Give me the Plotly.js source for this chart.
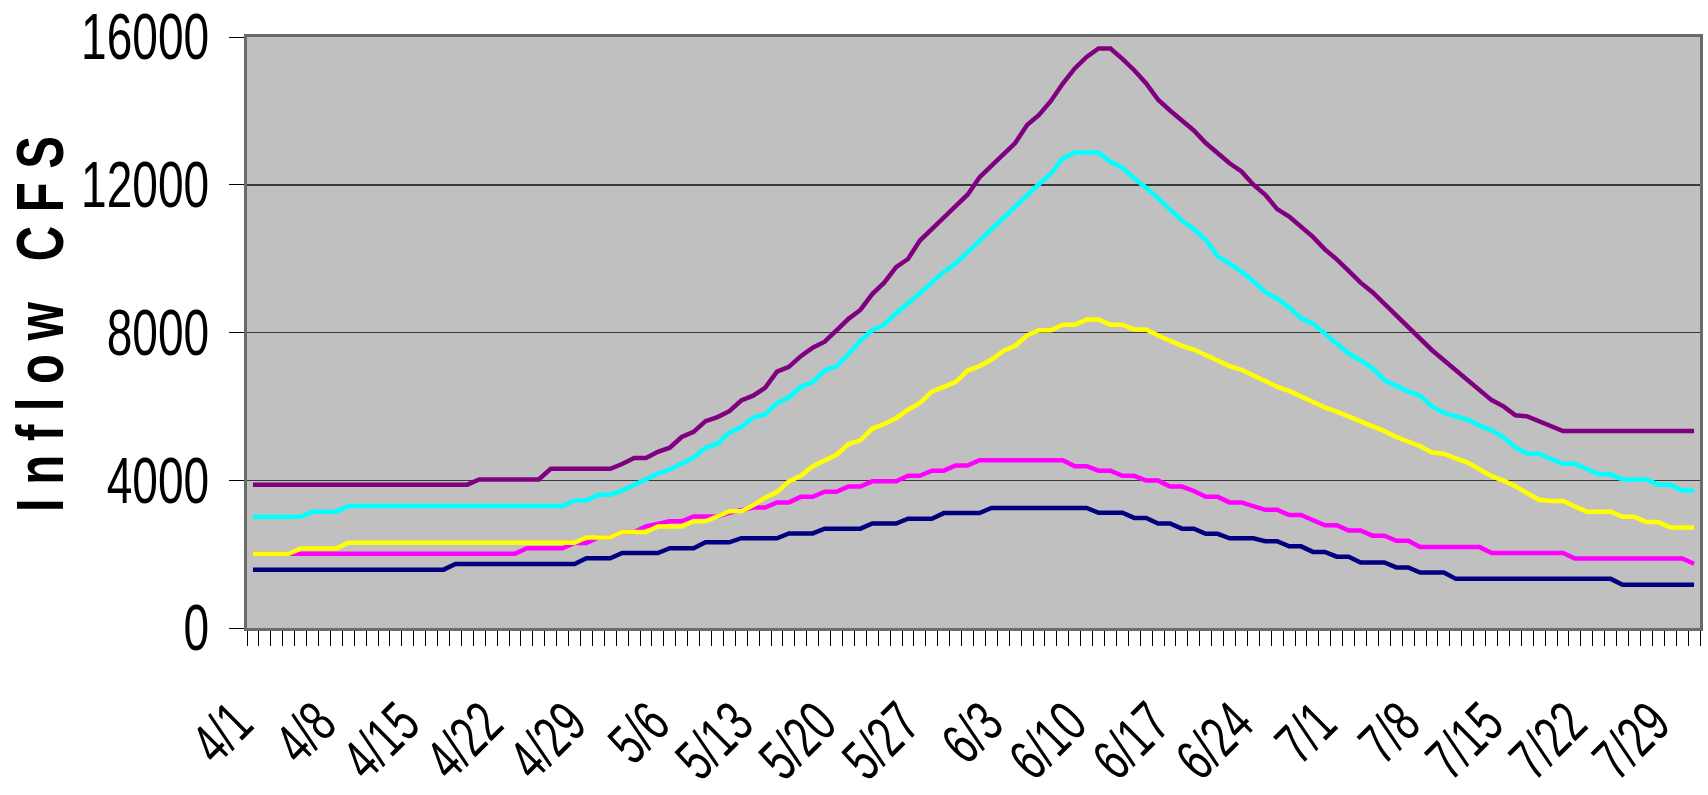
<!DOCTYPE html>
<html>
<head>
<meta charset="utf-8">
<script src="https://cdn.plot.ly/plotly-3.0.1.min.js"></script>
<style>
  html, body { margin: 0; padding: 0; background: #ffffff; }
  #chart { width: 1708px; height: 795px; }
</style>
</head>
<body>
<div id="chart"></div>
<script>
// daily categories 4/1 .. 7/31
const months = [4, 5, 6, 7];
const monthLengths = [30, 31, 30, 31];
const days = [];
months.forEach((m, k) => {
  for (let d = 1; d <= monthLengths[k]; d++) days.push(m + '/' + d);
});

const tickLabels = ['4/1', '4/8', '4/15', '4/22', '4/29', '5/6', '5/13', '5/20', '5/27',
  '6/3', '6/10', '6/17', '6/24', '7/1', '7/8', '7/15', '7/22', '7/29'];

const yTicks = [0, 4000, 8000, 12000, 16000];

// inflow, cfs
const navy = [
  1580, 1580, 1580, 1580, 1580, 1580, 1580, 1580, 1580, 1580,
  1580, 1580, 1580, 1580, 1580, 1580, 1580, 1735, 1735, 1735,
  1735, 1735, 1735, 1735, 1735, 1735, 1735, 1735, 1890, 1890,
  1890, 2030, 2030, 2030, 2030, 2160, 2160, 2160, 2320, 2320,
  2320, 2430, 2430, 2430, 2430, 2560, 2560, 2560, 2690, 2690,
  2690, 2690, 2830, 2830, 2830, 2960, 2960, 2960, 3110, 3110,
  3110, 3110, 3250, 3250, 3250, 3250, 3250, 3250, 3250, 3250,
  3250, 3120, 3120, 3120, 2980, 2980, 2830, 2830, 2690, 2690,
  2550, 2550, 2430, 2430, 2430, 2350, 2350, 2210, 2210, 2060,
  2060, 1930, 1930, 1775, 1775, 1775, 1640, 1640, 1500, 1500,
  1500, 1330, 1330, 1330, 1330, 1330, 1330, 1330, 1330, 1330,
  1330, 1330, 1330, 1330, 1330, 1170, 1170, 1170, 1170, 1170,
  1170, 1170
];

const magenta = [
  2010, 2010, 2010, 2010, 2010, 2010, 2010, 2010, 2010, 2010,
  2010, 2010, 2010, 2010, 2010, 2010, 2010, 2010, 2010, 2010,
  2010, 2010, 2010, 2160, 2160, 2160, 2160, 2300, 2300, 2450,
  2450, 2600, 2600, 2750, 2810, 2890, 2890, 3020, 3020, 3020,
  3120, 3200, 3260, 3260, 3400, 3400, 3550, 3550, 3690, 3690,
  3830, 3830, 3970, 3970, 3970, 4120, 4120, 4260, 4260, 4400,
  4400, 4540, 4540, 4540, 4540, 4540, 4540, 4540, 4540, 4380,
  4380, 4260, 4260, 4120, 4120, 3990, 3990, 3830, 3830, 3710,
  3550, 3550, 3400, 3400, 3300, 3200, 3200, 3060, 3060, 2910,
  2780, 2780, 2640, 2640, 2500, 2500, 2360, 2360, 2190, 2190,
  2190, 2190, 2190, 2190, 2030, 2030, 2030, 2030, 2030, 2030,
  2030, 1880, 1880, 1880, 1880, 1880, 1880, 1880, 1880, 1880,
  1880, 1740
];

const yellow = [
  2010, 2010, 2010, 2010, 2150, 2150, 2150, 2150, 2310, 2310,
  2310, 2310, 2310, 2310, 2310, 2310, 2310, 2310, 2310, 2310,
  2310, 2310, 2310, 2310, 2310, 2310, 2310, 2310, 2450, 2450,
  2450, 2600, 2600, 2600, 2750, 2750, 2750, 2890, 2890, 3020,
  3160, 3160, 3320, 3530, 3680, 3970, 4120, 4380, 4540, 4690,
  4980, 5080, 5400, 5520, 5680, 5910, 6090, 6400, 6530, 6660,
  6970, 7090, 7260, 7500, 7640, 7920, 8060, 8060, 8210, 8210,
  8350, 8350, 8210, 8210, 8080, 8080, 7920, 7780, 7640, 7540,
  7400, 7260, 7090, 6990, 6840, 6670, 6530, 6420, 6270, 6110,
  5970, 5860, 5730, 5580, 5460, 5330, 5170, 5040, 4920, 4750,
  4720, 4590, 4480, 4290, 4110, 3990, 3840, 3650, 3470, 3440,
  3440, 3290, 3150, 3150, 3150, 3010, 3010, 2870, 2870, 2720,
  2720, 2720
];

const cyan = [
  3010, 3010, 3010, 3010, 3010, 3150, 3150, 3150, 3300, 3300,
  3300, 3300, 3300, 3300, 3300, 3300, 3300, 3300, 3300, 3300,
  3300, 3300, 3300, 3300, 3300, 3300, 3300, 3450, 3450, 3610,
  3610, 3720, 3880, 4050, 4180, 4290, 4440, 4610, 4880, 4990,
  5290, 5440, 5700, 5780, 6090, 6240, 6530, 6660, 6970, 7090,
  7410, 7780, 8060, 8210, 8520, 8780, 9060, 9350, 9640, 9870,
  10180, 10490, 10800, 11130, 11400, 11710, 12020, 12300, 12720, 12870,
  12870, 12870, 12620, 12460, 12170, 11920, 11630, 11320, 11030, 10800,
  10510, 10060, 9870, 9640, 9390, 9090, 8920, 8680, 8390, 8240,
  7970, 7730, 7430, 7250, 7030, 6710, 6540, 6400, 6290, 6000,
  5820, 5730, 5640, 5480, 5350, 5160, 4890, 4720, 4720, 4570,
  4450, 4450, 4320, 4160, 4160, 4020, 4020, 4020, 3880, 3880,
  3720, 3720
];

const purple = [
  3880, 3880, 3880, 3880, 3880, 3880, 3880, 3880, 3880, 3880,
  3880, 3880, 3880, 3880, 3880, 3880, 3880, 3880, 3880, 4020,
  4020, 4020, 4020, 4020, 4020, 4310, 4310, 4310, 4310, 4310,
  4310, 4440, 4600, 4600, 4770, 4880, 5170, 5310, 5600, 5710,
  5870, 6160, 6290, 6500, 6940, 7070, 7360, 7590, 7750, 8060,
  8370, 8610, 9040, 9350, 9770, 9990, 10490, 10800, 11090, 11420,
  11730, 12200, 12510, 12820, 13130, 13620, 13890, 14270, 14740, 15150,
  15460, 15690, 15690, 15410, 15100, 14740, 14300, 14010, 13720, 13470,
  13130, 12870, 12580, 12360, 12000, 11730, 11340, 11140, 10880, 10590,
  10250, 9980, 9670, 9350, 9090, 8770, 8460, 8150, 7820, 7520,
  7250, 6980, 6710, 6450, 6170, 6000, 5760, 5730, 5600, 5440,
  5330, 5330, 5330, 5330, 5330, 5330, 5330, 5330, 5330, 5330,
  5330, 5330
];

// drawn in this order, later ones on top
const series = [
  { values: navy, color: '#000080' },
  { values: magenta, color: '#ff00ff' },
  { values: yellow, color: '#ffff00' },
  { values: cyan, color: '#00ffff' },
  { values: purple, color: '#800080' }
];

const dayIndex = days.map((d, i) => i);
const tickVals = tickLabels.map(t => days.indexOf(t));

const traces = series.map(s => ({
  x: dayIndex,
  y: s.values,
  type: 'scatter',
  mode: 'lines',
  line: { color: s.color, width: 4.5 },
  hoverinfo: 'skip'
}));

const sans = '"Liberation Sans", Arial, sans-serif';

const layout = {
  width: 1708,
  height: 795,
  margin: { l: 247, r: 8, t: 37, b: 167 },
  paper_bgcolor: '#ffffff',
  plot_bgcolor: '#c0c0c0',
  showlegend: false,
  font: { family: sans, color: '#000000' },
  xaxis: {
    type: 'linear',
    range: [-0.5, days.length - 0.5],
    tickmode: 'array',
    tickvals: tickVals,
    ticktext: tickLabels,
    tickangle: -45,
    ticks: '',
    ticklabelstandoff: 40,
    tickfont: { size: 58, family: sans },
    showgrid: false,
    zeroline: false,
    showline: true,
    linecolor: '#6a6a6a',
    linewidth: 3,
    mirror: true,
    minor: { ticks: 'outside', tick0: -0.5, dtick: 1, ticklen: 15, tickcolor: '#000000', tickwidth: 1, showgrid: false }
  },
  yaxis: {
    range: [0, 16000],
    tickmode: 'array',
    tickvals: yTicks,
    ticktext: yTicks.map(String),
    ticks: 'outside',
    ticklen: 15,
    tickcolor: '#000000',
    ticklabelstandoff: 7,
    tickfont: { size: 64, family: sans },
    showgrid: true,
    gridcolor: '#3a3a3a',
    gridwidth: 1.5,
    zeroline: false,
    showline: true,
    linecolor: '#6a6a6a',
    linewidth: 3,
    mirror: true,
    title: {
      text: 'I n f l o w   C F S',
      font: { family: sans, size: 66, weight: 'bold', color: '#000000' },
      standoff: 10
    }
  }
};

// the original uses a narrow face; squeeze text along its own baseline
function squeeze(el, sx) {
  const x = parseFloat(el.getAttribute('x')) || 0;
  const y = parseFloat(el.getAttribute('y')) || 0;
  const t = el.getAttribute('transform') || '';
  el.setAttribute('transform', `${t} translate(${x},${y}) scale(${sx},1) translate(${-x},${-y})`);
}

function shift(el, dx, dy) {
  el.setAttribute('transform', `translate(${dx},${dy}) ` + (el.getAttribute('transform') || ''));
}

Plotly.newPlot('chart', traces, layout, { displayModeBar: false, staticPlot: true }).then(gd => {
  const xa = gd._fullLayout.xaxis;

  gd.querySelectorAll('.xtick').forEach(g => {
    const el = g.querySelector('text');
    if (!el || !g.__data__) return;
    squeeze(el, 0.70);
    // put the end of each slanted label just under its day
    const cx = xa._offset + xa.l2p(g.__data__.x);
    const box = el.getBoundingClientRect();
    shift(el, (cx + 12) - box.right, 690 - box.top);
  });

  gd.querySelectorAll('.ytick text').forEach(el => squeeze(el, 0.72));

  const title = gd.querySelector('.ytitle');
  if (title) {
    squeeze(title, 0.743);
    const box = title.getBoundingClientRect();
    shift(title, 40 - (box.left + box.right) / 2, 324 - (box.top + box.bottom) / 2);
  }
});
</script>
</body>
</html>
